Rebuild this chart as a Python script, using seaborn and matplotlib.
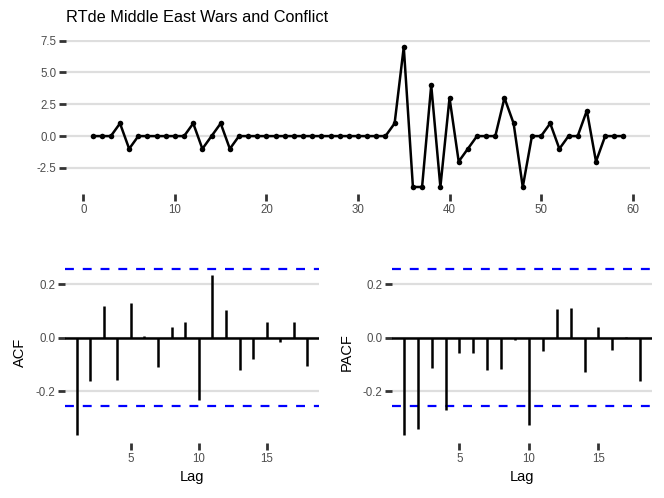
import numpy as np
import pandas as pd
import matplotlib
matplotlib.use('Agg')
import matplotlib.pyplot as plt
import seaborn as sns

# weekly series
t = list(range(1, 60))
values = [0, 0, 0, 1, -1, 0, 0, 0, 0, 0, 0, 1, -1, 0, 1, -1,
          0, 0, 0, 0, 0, 0, 0, 0, 0, 0, 0, 0, 0, 0, 0, 0, 0,
          1, 7, -4, -4, 4, -4, 3, -2, -1, 0, 0, 0, 3, 1, -4, 0, 0,
          1, -1, 0, 0, 2, -2, 0, 0, 0]

lags = list(range(1, 19))
acf_vals = [-0.363, -0.164, 0.116, -0.158, 0.128, 0.006, -0.111, 0.039, 0.058,
            -0.235, 0.234, 0.103, -0.123, -0.081, 0.058, -0.017, 0.058, -0.106]
pacf_vals = [-0.363, -0.342, -0.114, -0.270, -0.058, -0.056, -0.120, -0.118, -0.011,
             -0.325, -0.052, 0.106, 0.111, -0.130, 0.040, -0.046, 0.001, -0.161]

title = 'RTde Middle East Wars and Conflict'

sns.set_theme(style='white')
plt.rcParams['font.family'] = ['Liberation Sans', 'DejaVu Sans']

W, H = 664, 498
fig = plt.figure(figsize=(W / 100, H / 100), dpi=100)


def add_ax(l, r, t_, b):
    return fig.add_axes([l / W, 1 - b / H, (r - l) / W, (b - t_) / H])


def style_ax(ax):
    for s in ax.spines.values():
        s.set_visible(False)
    ax.grid(axis='y', color='#DEDEDE', linewidth=1.6)
    ax.grid(axis='x', visible=False)
    ax.set_axisbelow(True)
    ax.tick_params(axis='both', bottom=True, left=True, length=5, width=2,
                   color='#333333', labelsize=8.3, labelcolor='#4D4D4D', pad=2)


df = pd.DataFrame({'t': t, 'value': values})
ax1 = add_ax(66, 650, 40, 194)
sns.lineplot(data=df, x='t', y='value', ax=ax1, color='black', linewidth=1.8,
             marker='o', markersize=4, markeredgewidth=0)
ax1.set_xlim(-1.9, 61.9)
ax1.set_ylim(-4.55, 7.55)
ax1.set_xticks([0, 10, 20, 30, 40, 50, 60])
ax1.set_yticks([-2.5, 0, 2.5, 5, 7.5])
ax1.set_yticklabels(['-2.5', '0.0', '2.5', '5.0', '7.5'])
ax1.set_xlabel('')
ax1.set_ylabel('')
style_ax(ax1)
fig.text(66 / W, 1 - 18 / H, title, fontsize=11.7, va='center', ha='left',
         color='black')

conf = 1.96 / np.sqrt(len(values))


def corr_panel(ax, vals, label):
    cdf = pd.DataFrame({'lag': lags, 'v': vals})
    ax.axhline(0, color='black', linewidth=1.8, zorder=2)
    ax.vlines(cdf['lag'], 0, cdf['v'], color='black', linewidth=1.8, zorder=3)
    ax.axhline(conf, color='blue', linestyle=(0, (4, 4)), linewidth=1.6)
    ax.axhline(-conf, color='blue', linestyle=(0, (4, 4)), linewidth=1.6)
    ax.set_xlim(0.15, 18.85)
    ax.set_ylim(-0.394, 0.286)
    ax.set_xticks([5, 10, 15])
    ax.set_yticks([-0.2, 0.0, 0.2])
    ax.set_yticklabels(['-0.2', '0.0', '0.2'])
    style_ax(ax)
    ax.set_xlabel('Lag', fontsize=10.5, labelpad=4, color='black')
    ax.set_ylabel(label, fontsize=10.5, labelpad=6, color='black')


ax2 = add_ax(65, 319, 261, 443)
corr_panel(ax2, acf_vals, 'ACF')
ax3 = add_ax(392, 652, 261, 443)
corr_panel(ax3, pacf_vals, 'PACF')

fig.savefig('out.png', dpi=100, facecolor='white')
